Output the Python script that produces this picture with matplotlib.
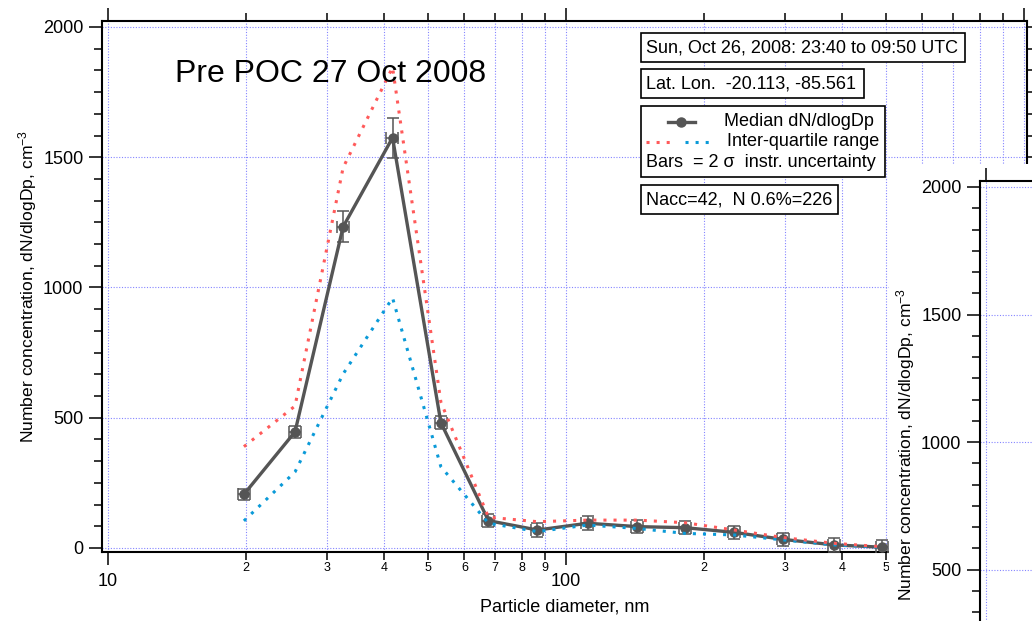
import numpy as np
import matplotlib
matplotlib.use('Agg')
import matplotlib.pyplot as plt
from matplotlib.ticker import MultipleLocator, LogLocator, FuncFormatter
from matplotlib.patches import Rectangle
from matplotlib.lines import Line2D

plt.rcParams['font.family'] = ['Liberation Sans', 'DejaVu Sans']
plt.rcParams['mathtext.fontset'] = 'custom'
plt.rcParams['mathtext.rm'] = 'Liberation Sans'
plt.rcParams['mathtext.it'] = 'Liberation Sans:italic'

# median size distribution + quartiles (nm, dN/dlogDp cm-3)
diam = [19.8, 25.6, 32.6, 41.8, 53.3, 67.7, 86.6, 111.4, 143.2, 181.9, 232.9, 298, 384, 489]
median = [206, 446, 1233, 1575, 481, 105, 69, 95, 82, 78, 60, 33, 12, 3]
err2s = [22, 24, 60, 76, 25, 25, 26, 26, 26, 26, 26, 26, 26, 26]
q75 = [389, 545, 1460, 1845, 560, 118, 101, 107, 107, 97, 69, 40, 18, 5]
q25 = [104, 292, 668, 960, 312, 95, 63, 88, 75, 56, 50, 31, 12, 3]

title = "Pre POC 27 Oct 2008"
time_txt = "Sun, Oct 26, 2008: 23:40 to 09:50 UTC"
pos_txt = "Lat. Lon.  -20.113, -85.561"
count_txt = "Nacc=42,  N 0.6%=226"
leg_labels = ["Median dN/dlogDp", "Inter-quartile range", "Bars  = 2 \u03c3  instr. uncertainty"]
ylab = "Number concentration, dN/dlogDp, cm$^{-3}$"
xlab = "Particle diameter, nm"

GRAY = '#555555'
RED = '#ff5a5a'
BLUE = '#0a9ad8'
GRID = '#8585ff'
FS = 13
DOTS = (0, (1, 2.3))

W, H = 1032, 621
fig = plt.figure(figsize=(W / 100, H / 100), dpi=100)
fx = lambda x: x / W
fy = lambda y: 1 - y / H


# the part of the axis right of 500 nm is covered by the next panel
def minor_lab(v, p):
    if v > 550:
        return ''
    e = 10 ** np.floor(np.log10(v) + 1e-9)
    return str(int(round(v / e)))


def major_lab(v, p):
    return '' if v > 550 else str(int(round(v)))


def style_axes(a):
    a.set_xscale('log')
    a.set_xlim(9.70, 1015)
    a.xaxis.set_major_locator(LogLocator(base=10))
    a.xaxis.set_minor_locator(LogLocator(base=10, subs=np.arange(2, 10)))
    a.xaxis.set_major_formatter(FuncFormatter(major_lab))
    a.xaxis.set_minor_formatter(FuncFormatter(minor_lab))
    a.yaxis.set_major_locator(MultipleLocator(500))
    a.yaxis.set_minor_locator(MultipleLocator(500 / 6))
    a.set_axisbelow(True)
    a.grid(True, which='both', axis='x', color=GRID, lw=0.8, ls=(0, (1, 1.5)))
    a.grid(True, which='major', axis='y', color=GRID, lw=0.8, ls=(0, (1, 1.5)))
    for s in a.spines.values():
        s.set_linewidth(1.5)
    a.tick_params(which='both', direction='out', width=1.1, top=True, right=True,
                  labeltop=False, labelright=False)
    a.tick_params(which='major', length=9.4)
    a.tick_params(which='minor', length=5.8)
    a.tick_params(axis='y', labelsize=FS, pad=4)
    a.tick_params(axis='x', which='major', labelsize=FS, pad=6)
    a.tick_params(axis='x', which='minor', labelsize=9, pad=1.5)


# main panel
ax = fig.add_axes([fx(102), fy(552), (1027 - 102) / W, (552 - 21) / H])
style_axes(ax)
ax.set_ylim(-15.4, 2023)

ax.errorbar(diam, median, yerr=err2s, xerr=[0.03 * d for d in diam], fmt='none',
            ecolor=GRAY, elinewidth=1.1, capsize=4.5, capthick=1.1, zorder=3)
ax.plot(diam, median, color=GRAY, lw=2.4, marker='o', ms=6.5, zorder=3)
ax.plot(diam, q25, color=BLUE, lw=2.2, ls=DOTS, zorder=4)
ax.plot(diam, q75, color=RED, lw=2.2, ls=DOTS, zorder=5)

ax.set_xlabel(xlab, fontsize=FS, labelpad=6)
ax.set_ylabel(ylab, fontsize=12.6, labelpad=3)

fig.text(fx(175), fy(82), title, fontsize=23, va='baseline')

# annotation boxes
def box(x0, y0, x1, y1):
    fig.add_artist(Rectangle((fx(x0), fy(y1)), (x1 - x0) / W, (y1 - y0) / H,
                             transform=fig.transFigure, facecolor='white',
                             edgecolor='black', lw=1.2, zorder=5))

box(641, 33, 965, 62)
fig.text(fx(646), fy(48), time_txt, fontsize=FS, va='center', zorder=6)
box(641, 69, 864, 98)
fig.text(fx(646), fy(84), pos_txt, fontsize=FS, va='center', zorder=6)
box(641, 106, 885, 177)
fig.add_artist(Line2D([fx(668), fx(681), fx(695)], [fy(122)] * 3, color=GRAY, lw=2.4,
                      marker='o', ms=6.5, markevery=[1], transform=fig.transFigure, zorder=6))
fig.add_artist(Line2D([fx(646), fx(675)], [fy(142)] * 2, color=RED, lw=2.2, ls=DOTS,
                      transform=fig.transFigure, zorder=6))
fig.add_artist(Line2D([fx(685), fx(714)], [fy(142)] * 2, color=BLUE, lw=2.2, ls=DOTS,
                      transform=fig.transFigure, zorder=6))
fig.text(fx(724), fy(122), leg_labels[0], fontsize=FS, va='center', zorder=6)
fig.text(fx(727), fy(142), leg_labels[1], fontsize=FS, va='center', zorder=6)
fig.text(fx(646), fy(162), leg_labels[2], fontsize=FS, va='center', zorder=6)
box(641, 185, 838, 214)
fig.text(fx(646), fy(200), count_txt, fontsize=FS, va='center', zorder=6)

# neighbouring panel overlapping on the right
fig.add_artist(Rectangle((fx(889), 0), (W - 889) / W, fy(164), transform=fig.transFigure,
                         facecolor='white', edgecolor='none', zorder=1))
ax2 = fig.add_axes([fx(980), fy(701), 925 / W, (701 - 181) / H], zorder=2)
style_axes(ax2)
ax2.set_ylim(-15.4, 2023.5)
ax2.set_yticks([500, 1000, 1500, 2000])
ax2.tick_params(axis='x', which='both', labelbottom=False)
fig.text(fx(906), fy(444), ylab, fontsize=12.6, rotation=90, ha='center', va='center', zorder=3)

fig.savefig('out.png', dpi=100)
